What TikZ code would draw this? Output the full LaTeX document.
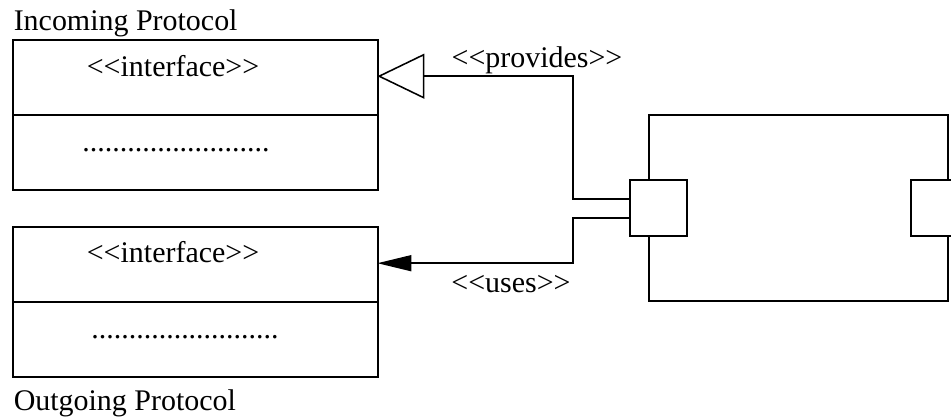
\documentclass[tikz,border=0pt]{standalone}
\usepackage{fontspec}
\newfontfamily\umlfont{Liberation Serif}
\usetikzlibrary{arrows.meta, calc}

\begin{document}
\begin{tikzpicture}[x=0.025cm, y=-0.025cm, line width=1.1pt,
    every node/.style={font=\umlfont\fontsize{21.3}{25}\selectfont, inner sep=0pt},
    iface/.style={draw, minimum width=9.125cm, minimum height=3.75cm},
    port/.style={draw, fill=white, minimum width=1.425cm, minimum height=1.4cm}]
    \useasboundingbox (0,0) rectangle (951,419);
    % Incoming interface
    \node[iface] (inA) at (195.5,115) {};
    \draw (inA.west) -- (inA.east);
    \node[anchor=base west] (inAname) at (13,31) {Incoming Protocol};
    \node[anchor=base] (inAstereo) at (173,77) {<<interface>>};
    \node[anchor=base] (inAops) at (176,152) {.........................};
    % Outgoing interface
    \node[iface] (outA) at (195.5,302) {};
    \draw (outA.west) -- (outA.east);
    \node[anchor=base west] (outAname) at (13,410) {Outgoing Protocol};
    \node[anchor=base] (outAstereo) at (173,262) {<<interface>>};
    \node[anchor=base] (outAops) at (185,338) {.........................};
    % Component and its ports
    \node[draw, minimum width=7.475cm, minimum height=4.65cm] (comp) at (798.5,208) {};
    \node[port] (lport) at (658.5,208) {};
    \node[port] (rport) at (939.5,208) {};
    % Connectors
    \draw[-{Triangle[open, length=1.175cm, width=1.125cm]}, shorten >=-1pt] ($(lport.west)+(0,-9)$) -- ++(-56,0) |- ($(inA.north east)+(0,37)$);
    \node[anchor=base] (provides) at (537,68) {<<provides>>};
    \draw[-{Triangle[length=0.85cm, width=0.4cm]}, shorten >=-1pt] ($(lport.west)+(0,10)$) -- ++(-56,0) |- ($(outA.north east)+(0,37)$);
    \node[anchor=base] (uses) at (511,292) {<<uses>>};
\end{tikzpicture}
\end{document}
